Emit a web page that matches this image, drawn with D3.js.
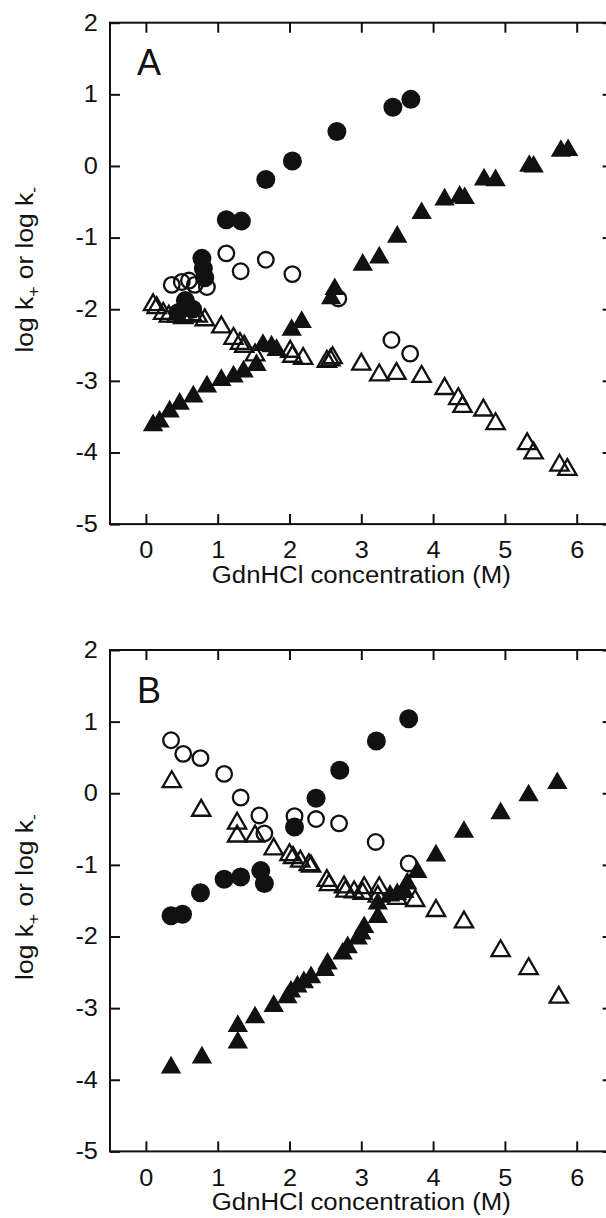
<!doctype html>
<html>
<head>
<meta charset="utf-8">
<style>
  body { margin: 0; background: #fff; }
  svg text { font-family: "Liberation Sans", Arial, Helvetica, sans-serif; fill: #111; }
</style>
<script src="https://d3js.org/d3.v7.min.js"></script>
</head>
<body>
<svg width="606" height="1218"></svg>
<script>
// tick values shared by both panels
const xTicks = [0, 1, 2, 3, 4, 5, 6];
const yTicks = [-5, -4, -3, -2, -1, 0, 1, 2];
const xTitle = "GdnHCl concentration (M)";

// panel A  [GdnHCl (M), log k]
const A_filledCircle = [[0.45,-2.05],[0.55,-1.88],[0.65,-2.0],[0.78,-1.29],[0.8,-1.43],[0.82,-1.56],
  [1.12,-0.75],[1.33,-0.77],[1.67,-0.19],[2.04,0.07],[2.66,0.48],[3.44,0.82],[3.69,0.93]];
const A_openCircle = [[0.36,-1.66],[0.5,-1.62],[0.6,-1.6],[0.68,-1.66],[0.85,-1.69],
  [1.12,-1.22],[1.32,-1.47],[1.67,-1.31],[2.04,-1.51],[2.68,-1.85],[3.42,-2.43],[3.68,-2.62]];
const A_filledTriangle = [[0.1,-3.62],[0.19,-3.57],[0.33,-3.43],[0.47,-3.32],[0.66,-3.22],[0.85,-3.08],
  [1.05,-2.99],[1.22,-2.94],[1.36,-2.87],[1.54,-2.78],[1.63,-2.5],[1.75,-2.52],[1.82,-2.57],
  [2.03,-2.29],[2.17,-2.18],[2.58,-1.85],[2.63,-1.72],[3.02,-1.38],[3.25,-1.28],[3.5,-0.99],
  [3.84,-0.66],[4.16,-0.47],[4.37,-0.43],[4.44,-0.45],[4.71,-0.19],[4.87,-0.2],
  [5.34,0.0],[5.4,-0.01],[5.78,0.21],[5.88,0.22]];
const A_openTriangle = [[0.1,-1.94],[0.15,-1.98],[0.24,-2.06],[0.32,-2.1],[0.43,-2.1],[0.52,-2.12],
  [0.64,-2.08],[0.72,-2.1],[0.82,-2.15],[1.05,-2.25],[1.22,-2.41],[1.31,-2.48],[1.37,-2.52],
  [1.52,-2.64],[2.01,-2.59],[2.04,-2.66],[2.19,-2.69],[2.52,-2.73],[2.57,-2.71],[2.6,-2.68],
  [3.0,-2.77],[3.25,-2.92],[3.49,-2.9],[3.84,-2.94],[4.16,-3.11],[4.35,-3.25],[4.41,-3.36],
  [4.7,-3.41],[4.87,-3.6],[5.31,-3.88],[5.4,-4.01],[5.76,-4.18],[5.87,-4.24]];

// panel B
const B_filledCircle = [[0.35,-1.71],[0.51,-1.69],[0.76,-1.39],[1.09,-1.2],[1.32,-1.17],[1.6,-1.08],
  [1.65,-1.26],[2.07,-0.47],[2.37,-0.07],[2.7,0.32],[3.21,0.73],[3.66,1.04]];
const B_openCircle = [[0.35,0.74],[0.52,0.55],[0.76,0.49],[1.09,0.27],[1.32,-0.06],[1.58,-0.31],
  [1.65,-0.56],[2.07,-0.32],[2.37,-0.36],[2.69,-0.42],[3.2,-0.68],[3.66,-0.98]];
const B_filledTriangle = [[0.35,-3.83],[0.78,-3.69],[1.28,-3.25],[1.28,-3.48],[1.52,-3.13],[1.78,-2.97],
  [1.97,-2.85],[2.02,-2.77],[2.11,-2.7],[2.2,-2.64],[2.3,-2.57],[2.49,-2.47],[2.53,-2.38],
  [2.74,-2.24],[2.81,-2.15],[2.95,-2.03],[3.0,-1.96],[3.04,-1.87],[3.23,-1.73],[3.23,-1.54],
  [3.4,-1.43],[3.5,-1.41],[3.6,-1.38],[3.64,-1.26],[3.78,-1.1],[4.04,-0.87],[4.43,-0.54],
  [4.94,-0.28],[5.33,-0.03],[5.73,0.14]];
const B_openTriangle = [[0.36,0.16],[0.77,-0.24],[1.27,-0.42],[1.27,-0.6],[1.52,-0.6],[1.78,-0.78],
  [2.0,-0.86],[2.05,-0.9],[2.15,-0.95],[2.27,-1.0],[2.3,-1.02],[2.52,-1.22],[2.55,-1.28],
  [2.76,-1.31],[2.78,-1.37],[2.9,-1.38],[3.04,-1.32],[3.02,-1.4],[3.25,-1.32],[3.23,-1.44],
  [3.5,-1.47],[3.75,-1.5],[4.04,-1.64],[4.43,-1.8],[4.94,-2.2],[5.33,-2.45],[5.75,-2.85]];

const panels = [
  { letter: "A", top: 22.7, fc: A_filledCircle, oc: A_openCircle, ft: A_filledTriangle, ot: A_openTriangle },
  { letter: "B", top: 650, fc: B_filledCircle, oc: B_openCircle, ft: B_filledTriangle, ot: B_openTriangle }
];

const svg = d3.select("svg");
const left = 110, plotW = 502.6, plotH = 501.4;
const stretch = "scale(1.1,1)";

const x = d3.scaleLinear().domain([-0.5, 6.5]).range([0, plotW]);
const y = d3.scaleLinear().domain([-5, 2]).range([plotH, 0]);

const circleFilled = d3.symbol().type(d3.symbolCircle).size(Math.PI * 9.5 * 9.5);
const circleOpen = d3.symbol().type(d3.symbolCircle).size(Math.PI * 7.8 * 7.8);
const triFilled = d3.symbol().type(d3.symbolTriangle).size(180);
const triOpen = d3.symbol().type(d3.symbolTriangle).size(145);

panels.forEach(p => {
  const g = svg.append("g").attr("transform", "translate(" + left + "," + p.top + ")");

  // inward ticks on all four sides
  const bottom = g.append("g").attr("transform", "translate(0," + plotH + ")")
    .call(d3.axisBottom(x).tickValues(xTicks).tickSizeInner(-10).tickSizeOuter(0).tickPadding(18)
      .tickFormat(d => String(d)));
  const leftAx = g.append("g")
    .call(d3.axisLeft(y).tickValues(yTicks).tickSizeInner(-10).tickSizeOuter(0).tickPadding(11)
      .tickFormat(d => String(d)));
  g.append("g").call(d3.axisTop(x).tickValues(xTicks).tickSizeInner(-10).tickSizeOuter(0).tickFormat(""));
  g.append("g").attr("transform", "translate(" + plotW + ",0)")
    .call(d3.axisRight(y).tickValues(yTicks).tickSizeInner(-10).tickSizeOuter(0).tickFormat(""));

  g.selectAll(".domain").remove();
  g.selectAll(".tick line").attr("stroke", "#111").attr("stroke-width", 2);
  [bottom, leftAx].forEach(ax => {
    ax.attr("font-size", 23).attr("font-family", null);
    ax.selectAll("text").attr("transform", stretch).attr("fill", "#111");
  });

  g.append("rect").attr("width", plotW).attr("height", plotH)
    .attr("fill", "none").attr("stroke", "#111").attr("stroke-width", 2);

  g.append("text").attr("x", 27).attr("y", 52.5).attr("font-size", 36).text(p.letter);

  // axis titles
  g.append("text")
    .attr("transform", "translate(" + x(3) + "," + (plotH + 59) + ")")
    .attr("text-anchor", "middle").attr("font-size", 23.5)
    .attr("textLength", 299).attr("lengthAdjust", "spacingAndGlyphs")
    .text(xTitle);

  const yt = g.append("text")
    .attr("transform", "translate(" + (33 - left) + ",247) rotate(-90) " + stretch)
    .attr("text-anchor", "middle").attr("font-size", 24);
  yt.append("tspan").text("log k");
  yt.append("tspan").attr("dy", 6).attr("font-size", 16).text("+");
  yt.append("tspan").attr("dy", -6).text(" or log k");
  yt.append("tspan").attr("dy", 6).attr("font-size", 16).text("-");

  // markers
  const pos = d => "translate(" + x(d[0]) + "," + y(d[1]) + ")";
  g.append("g").selectAll("path").data(p.ot).join("path")
    .attr("d", triOpen).attr("transform", pos)
    .attr("fill", "none").attr("stroke", "#111").attr("stroke-width", 2.3);
  g.append("g").selectAll("path").data(p.oc).join("path")
    .attr("d", circleOpen).attr("transform", pos)
    .attr("fill", "none").attr("stroke", "#111").attr("stroke-width", 2.3);
  g.append("g").selectAll("path").data(p.ft).join("path")
    .attr("d", triFilled).attr("transform", pos).attr("fill", "#111");
  g.append("g").selectAll("path").data(p.fc).join("path")
    .attr("d", circleFilled).attr("transform", pos).attr("fill", "#111");
});
</script>
</body>
</html>
